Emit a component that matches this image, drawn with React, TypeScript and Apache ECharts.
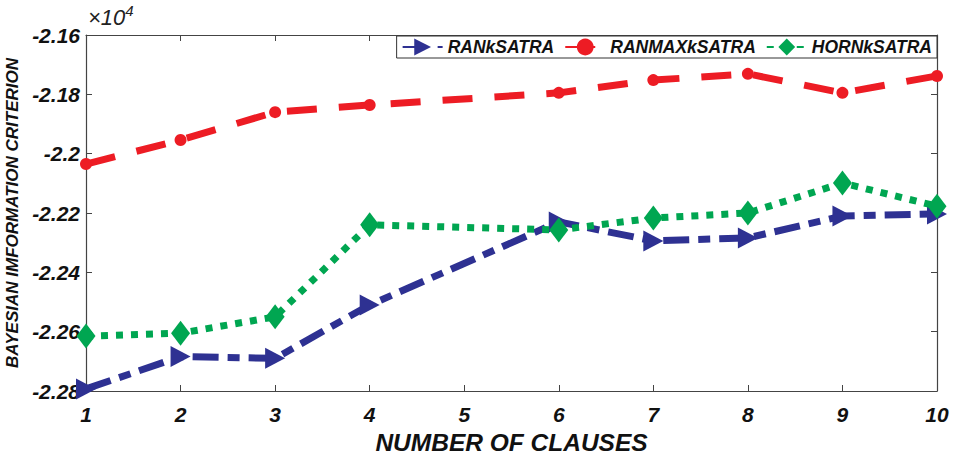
import React, { useEffect, useRef } from "react";
import * as echarts from "echarts";

const clauses = [1, 2, 3, 4, 6, 7, 8, 9, 10];
const rankSatra = [-2.2793, -2.2684, -2.269, -2.251, -2.223, -2.2294, -2.2284, -2.221, -2.2203];
const ranMaxSatra = [-2.2035, -2.1954, -2.186, -2.1836, -2.1795, -2.1752, -2.1731, -2.1795, -2.1738];
const hornSatra = [-2.2615, -2.2605, -2.255, -2.224, -2.2257, -2.2217, -2.22, -2.2099, -2.2177];
const seriesNames = ["RANkSATRA", "RANMAXkSATRA", "HORNkSATRA"];

const FONT = "Liberation Sans, Arial, sans-serif";

export default function App() {
  const ref = useRef<HTMLDivElement>(null);
  useEffect(() => {
    if (!ref.current) return;
    const chart = echarts.init(ref.current, undefined, { renderer: "svg" });
    const pair = (ys: number[]) => clauses.map((x, i) => [x, ys[i]]);
    const labelFont = { fontFamily: FONT, fontWeight: "bold" as const, fontStyle: "italic" as const, fontSize: 21, color: "#111" };
    const axisLine = { show: true, lineStyle: { color: "#444", width: 1.2 } };
    const tick = { show: true, inside: true, length: 6, lineStyle: { color: "#444" } };
    chart.setOption({
      animation: false,
      backgroundColor: "#fff",
      grid: { left: 86, right: 18, top: 35, bottom: 65, containLabel: false, outerBoundsMode: "none" },
      graphic: [
        {
          type: "text",
          left: 88,
          top: 3,
          style: {
            text: "{a|×10}{b|4}",
            rich: {
              a: { fontFamily: FONT, fontStyle: "italic", fontSize: 22, fill: "#222", verticalAlign: "bottom" },
              b: { fontFamily: FONT, fontStyle: "italic", fontSize: 15, fill: "#222", verticalAlign: "top", padding: [0, 0, 10, 0] },
            },
          },
        },
      ],
      legend: {
        right: 18,
        top: 36,
        orient: "horizontal",
        backgroundColor: "#fff",
        borderColor: "#333",
        borderWidth: 1,
        borderRadius: 0,
        padding: [2, 5, 2, 5],
        itemGap: 10,
        itemWidth: 40,
        itemHeight: 21,
        textStyle: { fontFamily: FONT, fontWeight: "bold", fontStyle: "italic", fontSize: 17.5, color: "#111" },
        data: seriesNames,
      },
      xAxis: [
        {
          type: "value",
          min: 1,
          max: 10,
          interval: 1,
          name: "NUMBER OF CLAUSES",
          nameLocation: "middle",
          nameGap: 33,
          nameTextStyle: { fontFamily: FONT, fontWeight: "bold", fontStyle: "italic", fontSize: 24.5, color: "#111" },
          axisLine,
          axisTick: tick,
          axisLabel: { ...labelFont, margin: 13 },
          splitLine: { show: false },
        },
        {
          type: "value",
          position: "top",
          min: 1,
          max: 10,
          interval: 1,
          axisLine,
          axisTick: tick,
          axisLabel: { show: false },
          splitLine: { show: false },
        },
      ],
      yAxis: [
        {
          type: "value",
          min: -2.28,
          max: -2.16,
          interval: 0.02,
          name: "BAYESIAN IMFORMATION CRITERION",
          nameLocation: "middle",
          nameRotate: 90,
          nameGap: 52,
          nameTextStyle: { fontFamily: FONT, fontWeight: "bold", fontStyle: "italic", fontSize: 17, color: "#111" },
          axisLine,
          axisTick: tick,
          axisLabel: {
            ...labelFont,
            margin: 6,
            formatter: (v: number) => String(Number(v.toFixed(2))),
          },
          splitLine: { show: false },
        },
        {
          type: "value",
          position: "right",
          min: -2.28,
          max: -2.16,
          interval: 0.02,
          axisLine,
          axisTick: tick,
          axisLabel: { show: false },
          splitLine: { show: false },
        },
      ],
      series: [
        {
          name: seriesNames[0],
          type: "line",
          data: pair(rankSatra),
          color: "#2E3192",
          lineStyle: { width: 7, type: [26, 9, 12, 9], color: "#2E3192" },
          symbol: "path://M0,0 L10,5 L0,10 Z",
          symbolSize: [20, 21],
          itemStyle: { color: "#2E3192" },
          z: 3,
        },
        {
          name: seriesNames[1],
          type: "line",
          data: pair(ranMaxSatra),
          color: "#ED1C24",
          lineStyle: { width: 7, type: [30, 22], color: "#ED1C24" },
          symbol: "circle",
          symbolSize: 12,
          itemStyle: { color: "#ED1C24" },
          z: 2,
        },
        {
          name: seriesNames[2],
          type: "line",
          data: pair(hornSatra),
          color: "#00A651",
          lineStyle: { width: 7, type: [7, 8], color: "#00A651" },
          symbol: "diamond",
          symbolSize: [19, 25],
          itemStyle: { color: "#00A651" },
          z: 4,
        },
      ],
    });
    return () => chart.dispose();
  }, []);
  return <div ref={ref} style={{ position: "absolute", left: 0, top: 0, width: 955, height: 456 }} />;
}
